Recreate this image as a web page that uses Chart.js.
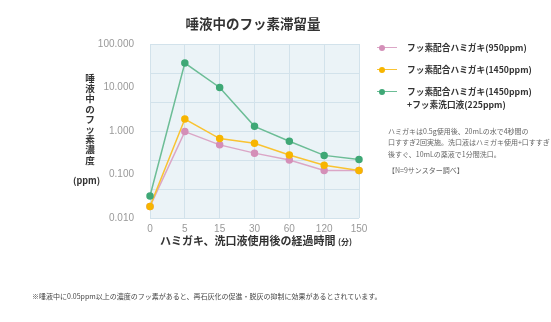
<!DOCTYPE html>
<html lang="ja">
<head>
<meta charset="utf-8">
<script src="https://cdn.jsdelivr.net/npm/chart.js@4/dist/chart.umd.min.js"></script>
<style>
  body { margin: 0; background: #fff; font-family: "Noto Sans CJK JP", "Noto Sans", sans-serif; }
  #wrap { position: relative; width: 551px; height: 322px; overflow: hidden; }
  #chart { position: absolute; left: 0; top: 0; }
  .txt { position: absolute; white-space: nowrap; color: #333; }
  #title { left: 0; width: 506px; top: 13px; text-align: center; font-size: 13.5px; font-weight: bold; }
  #ytitle { left: 80px; width: 20px; top: 73px; text-align: center; font-size: 9.6px; line-height: 10.2px; font-weight: bold; }
  #yunit { left: 73px; width: 26px; text-align: center; top: 174px; font-size: 9px; font-weight: bold; }
  #xtitle { left: 160px; top: 232px; font-size: 11px; font-weight: bold; }
  #xtitle small { font-size: 8px; }
  .leg { position: absolute; left: 377px; font-size: 8.7px; font-weight: bold; color: #333; line-height: 13px; }
  .leg i { position: absolute; left: 0; top: 6px; width: 20px; height: 1px; }
  .leg b { position: absolute; left: 2px; top: 4px; width: 6px; height: 6px; border-radius: 50%; }
  .leg span { margin-left: 30px; display: inline-block; }
  #note { left: 388px; top: 126px; font-size: 7px; line-height: 11.3px; color: #666; }
  #foot { left: 32px; top: 291px; font-size: 7px; color: #444; }
</style>
</head>
<body>
<div id="wrap">
  <canvas id="chart" width="551" height="322"></canvas>
  <div class="txt" id="title">唾液中のフッ素滞留量</div>
  <div class="txt" id="ytitle">唾<br>液<br>中<br>の<br>フ<br>ッ<br>素<br>濃<br>度</div>
  <div class="txt" id="yunit">(ppm)</div>
  <div class="txt" id="xtitle">ハミガキ、洗口液使用後の経過時間 <small>(分)</small></div>
  <div id="legend"></div>
  <div class="txt" id="note">ハミガキは0.5g使用後、20mLの水で4秒間の<br>口すすぎ2回実施。洗口液はハミガキ使用+口すすぎ<br>後すぐ、10mLの薬液で1分間洗口。<br><span style="line-height:20px">【N=9サンスター調べ】</span></div>
  <div class="txt" id="foot">※唾液中に0.05ppm以上の濃度のフッ素があると、再石灰化の促進・脱灰の抑制に効果があるとされています。</div>
</div>
<script>
// elapsed minutes after use
const minutes = ["0", "5", "15", "30", "60", "120", "150"];

// fluoride in saliva (ppm)
const paste950 = [0.0185, 0.97, 0.48, 0.31, 0.215, 0.123, 0.123];
const paste1450 = [0.0185, 1.88, 0.67, 0.52, 0.28, 0.163, 0.123];
const pasteRinse = [0.032, 36.5, 10, 1.28, 0.58, 0.275, 0.22];

const yTicks = [0.01, 0.1, 1, 10, 100];

const seriesNames = [
    ["フッ素配合ハミガキ(950ppm)"],
    ["フッ素配合ハミガキ(1450ppm)"],
    ["フッ素配合ハミガキ(1450ppm)", "+フッ素洗口液(225ppm)"],
];
const colors = ["#d48fb8", "#f7b500", "#3fa876"];
const lineColors = ["#dba6c6", "#f9c332", "#6cbd96"];

/* HTML legend */
const legendTops = [41, 63, 85];
const legendEl = document.getElementById("legend");
seriesNames.forEach((lines, i) => {
    const row = document.createElement("div");
    row.className = "leg";
    row.style.top = legendTops[i] + "px";
    row.innerHTML = `<i style="background:${lineColors[i]}"></i><b style="background:${colors[i]}"></b><span>${lines.join("<br>")}</span>`;
    legendEl.appendChild(row);
});

/* plot area background */
const plotBg = {
    id: "plotBg",
    beforeDraw(chart) {
        const { ctx, chartArea: a } = chart;
        ctx.save();
        ctx.fillStyle = "#ebf3f7";
        ctx.fillRect(a.left, a.top, a.right - a.left, a.bottom - a.top);
        ctx.restore();
    }
};

function makeSet(label, data, i, order) {
    return {
        label: label,
        data: data,
        borderColor: lineColors[i],
        backgroundColor: colors[i],
        pointBackgroundColor: colors[i],
        pointBorderColor: colors[i],
        pointRadius: 3,
        borderWidth: 1.5,
        tension: 0,
        order: order,
    };
}

new Chart(document.getElementById("chart"), {
    type: "line",
    data: {
        labels: minutes,
        datasets: [
            makeSet(seriesNames[0].join(""), paste950, 0, 2),
            makeSet(seriesNames[1].join(""), paste1450, 1, 1),
            makeSet(seriesNames[2].join(""), pasteRinse, 2, 0),
        ]
    },
    options: {
        responsive: false,
        animation: false,
        layout: { padding: { left: 0, right: 192, top: 44, bottom: 0 } },
        plugins: {
            legend: { display: false },
            tooltip: { enabled: false }
        },
        scales: {
            x: {
                offset: false,
                grid: { color: "#d2e2eb", drawTicks: false },
                border: { display: false },
                ticks: {
                    color: "#999",
                    padding: 5,
                    font: { family: "Liberation Sans", size: 10 }
                },
                afterFit: (scale) => { scale.height = 104; }
            },
            y: {
                type: "logarithmic",
                min: 0.01,
                max: 100,
                grid: { display: false },
                border: { display: false },
                afterBuildTicks: (scale) => {
                    scale.ticks = yTicks.map(v => ({ value: v }));
                },
                ticks: {
                    color: "#999",
                    padding: 8,
                    font: { family: "Liberation Sans", size: 10 },
                    callback: (v) => Number(v).toFixed(3)
                },
                afterFit: (scale) => { scale.width = 150; }
            },
            // evenly spaced background grid lines
            grid6: {
                type: "linear",
                position: "right",
                min: 0,
                max: 6,
                ticks: { display: false, stepSize: 1 },
                grid: { color: "#d2e2eb", drawTicks: false },
                border: { display: false },
                afterFit: (scale) => { scale.width = 0; }
            }
        }
    },
    plugins: [plotBg]
});
</script>
</body>
</html>
